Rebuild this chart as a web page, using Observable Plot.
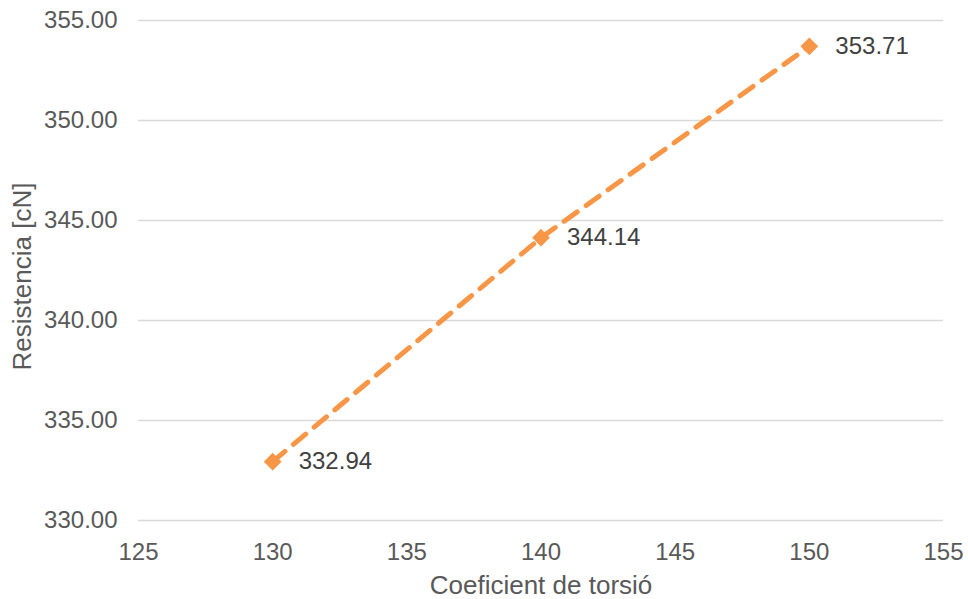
<!DOCTYPE html>
<html>
<head>
<meta charset="utf-8">
<script src="https://cdn.jsdelivr.net/npm/d3@7"></script>
<script src="https://cdn.jsdelivr.net/npm/@observablehq/plot@0.6"></script>
<style>
  html, body { margin: 0; padding: 0; background: #fff; }
  #chart svg { display: block; }
</style>
</head>
<body>
<div id="chart"></div>
<script>
// Twist coefficient vs. yarn strength
const coeficient = [130, 140, 150];
const resistencia = [332.94, 344.14, 353.71];
const xTicks = [125, 130, 135, 140, 145, 150, 155];
const yTicks = [330, 335, 340, 345, 350, 355];
const xTitle = "Coeficient de torsió";
const yTitle = "Resistencia [cN]";

const data = coeficient.map((c, i) => ({x: c, y: resistencia[i]}));
const orange = "#F79646";
const font = "'Liberation Sans', Arial, sans-serif";

const chart = Plot.plot({
  width: 968,
  height: 599,
  marginLeft: 138,
  marginRight: 25,
  marginTop: 20,
  marginBottom: 79,
  style: {fontFamily: font, fontSize: "24px", color: "#595959", background: "#fff"},
  x: {domain: [125, 155]},
  y: {domain: [330, 355]},
  marks: [
    Plot.ruleY(yTicks, {stroke: "#D9D9D9", strokeWidth: 1.5}),
    Plot.axisY({ticks: yTicks, tickSize: 0, tickPadding: 21, tickFormat: d => d.toFixed(2),
      label: null, fill: "#595959", fontSize: 24}),
    Plot.axisX({ticks: xTicks, tickSize: 0, tickPadding: 22, tickFormat: d => String(d),
      label: null, fill: "#595959", fontSize: 24}),
    Plot.text([xTitle], {frameAnchor: "bottom", dy: 65, lineAnchor: "middle", textAnchor: "middle", fontSize: 26, fill: "#595959"}),
    Plot.text([yTitle], {frameAnchor: "left", dx: -116, dy: 6, rotate: -90, lineAnchor: "middle", textAnchor: "middle", fontSize: 26, fill: "#595959"}),
    Plot.line(data, {x: "x", y: "y", stroke: orange, strokeWidth: 5, strokeDasharray: "16,11", strokeLinecap: "round"}),
    Plot.dot(data, {x: "x", y: "y", symbol: "diamond2", r: 8, fill: orange, stroke: "none"}),
    Plot.text(data, {x: "x", y: "y", text: d => d.y.toFixed(2), dx: 26, textAnchor: "start", fill: "#404040", fontSize: 24})
  ]
});
document.getElementById("chart").appendChild(chart);
</script>
</body>
</html>
